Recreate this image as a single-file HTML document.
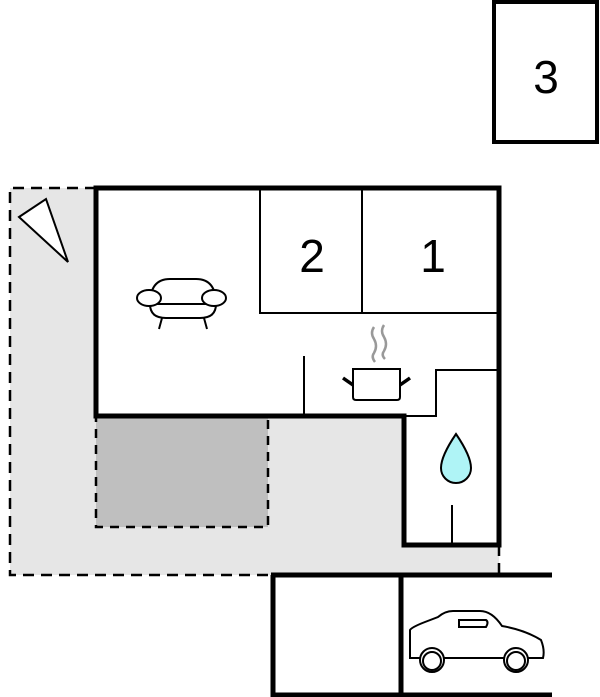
<!DOCTYPE html>
<html><head><style>html,body{margin:0;padding:0;background:#fff}svg{display:block}</style></head>
<body>
<svg width="600" height="697" viewBox="0 0 600 697" xmlns="http://www.w3.org/2000/svg">
<rect x="10" y="188" width="489" height="387" fill="#e6e6e6"/>
<rect x="96" y="188" width="403" height="228" fill="#fff"/>
<rect x="404" y="370" width="95" height="175" fill="#fff"/>
<rect x="304" y="313" width="195" height="103" fill="#fff"/>
<rect x="96" y="416" width="172" height="111" fill="#bfbfbf" stroke="#000" stroke-width="2.5" stroke-dasharray="9,7"/>
<g fill="none" stroke="#000" stroke-width="2.5" stroke-dasharray="11,7">
<path d="M96 188 H10 V575 H272"/>
<path d="M499 545 V575"/>
</g>
<g fill="none" stroke="#000" stroke-width="2">
<path d="M260 188 V313 H499"/><path d="M362 188 V313"/>
<path d="M304 356 V416"/>
<path d="M404 416 H436 V370 H499"/>
<path d="M452 505 V545"/>
</g>
<g fill="none" stroke="#000" stroke-width="5">
<path d="M96 188 H499 V545 H404 V416 H96 Z"/>
<path d="M271 575 H552 M273 575 V697 M401 575 V697 M271 695 H552"/>
</g>
<rect x="494" y="2" width="103" height="140" fill="#fff" stroke="#000" stroke-width="4"/>
<g font-family="Liberation Sans, sans-serif" font-size="46" text-anchor="middle" fill="#000">
<text x="546" y="93">3</text><text x="312" y="272">2</text><text x="433" y="272">1</text>
</g>
<polygon points="19,217 46,199 68,262" fill="#fff" stroke="#000" stroke-width="2"/>
<g fill="#fff" stroke="#000" stroke-width="2">
<path d="M150 304 Q150 279 170 279 H196 Q216 279 216 304 Z"/>
<path d="M150 304 H216 Q216 318 200 318 H166 Q150 318 150 304 Z"/>
<ellipse cx="149" cy="298" rx="12" ry="8"/><ellipse cx="214" cy="298" rx="12" ry="8"/>
<path d="M162 318 L159 329 M204 318 L207 329" fill="none"/>
</g>
<g fill="none" stroke="#999" stroke-width="2.5">
<path d="M374 327 Q370 333 374 339 Q378 346 374 353 Q371 357 375 362"/>
<path d="M384 325 Q380 331 384 337 Q388 344 384 351 Q381 355 385 359"/>
</g>
<path d="M353 369 H400 V397 Q400 400 397 400 H356 Q353 400 353 397 Z" fill="#fff" stroke="#000" stroke-width="2"/>
<path d="M343 378 L353 385 M410 378 L400 385" stroke="#000" stroke-width="3.5"/>
<path d="M456 434 Q471 456 471 468 A15 15 0 0 1 441 468 Q441 456 456 434 Z" fill="#aff4f6" stroke="#000" stroke-width="2"/>
<g fill="#fff" stroke="#000" stroke-width="2">
<path d="M410 658 V630 Q412 627 425 622 L438 617 Q445 611 453 611 H480 Q492 611 502 626 Q525 630 541 640 Q545 650 543 658 Z"/>
<path d="M459 620 H486 Q489 622 486 627 H459 Z"/>
<circle cx="432" cy="660" r="12"/><circle cx="516" cy="660" r="12"/>
</g>
<circle cx="432" cy="661" r="9" fill="#fff" stroke="#000" stroke-width="2"/>
<circle cx="516" cy="661" r="9" fill="#fff" stroke="#000" stroke-width="2"/>
</svg>
</body></html>
